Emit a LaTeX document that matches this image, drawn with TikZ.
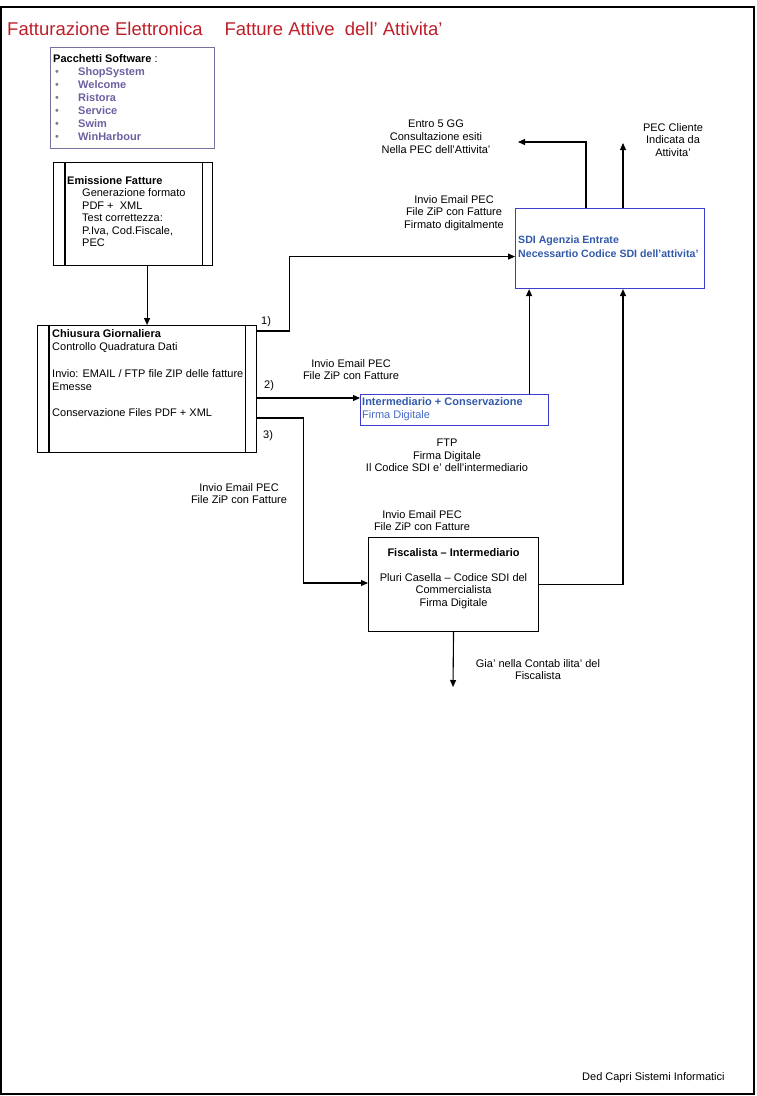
\documentclass[tikz,border=0pt]{standalone}
\usepackage{fontspec}
\setmainfont{Liberation Sans}
\usetikzlibrary{arrows.meta}
\definecolor{rossoTitolo}{RGB}{190,30,40}
\definecolor{violaPacchetti}{RGB}{110,95,160}
\definecolor{bordoPacchetti}{RGB}{120,110,160}
\definecolor{bluSDI}{RGB}{50,90,170}
\definecolor{bluFirma}{RGB}{70,105,200}
\definecolor{bordoBlu}{RGB}{60,60,205}
\newcommand{\voce}[1]{\makebox[25pt][l]{\hspace{2pt}\textcolor{gray}{\textbullet}}\textcolor{violaPacchetti}{\textbf{#1}}}
\begin{document}
\begin{tikzpicture}[x=1pt, y=-1pt, line join=miter, >={Triangle[length=7pt,width=6pt]},
  box/.style={draw, line width=1.1pt, inner sep=0pt, anchor=north west},
  testo/.style={inner sep=0pt, font=\fontsize{11}{13}\selectfont},
  nota/.style={inner sep=0pt, align=center, anchor=north, font=\fontsize{11}{12.6}\selectfont},
  freccia/.style={draw, line width=1.1pt, ->}]
\useasboundingbox (0,0) rectangle (756,1096);
% cornice della pagina
\draw[line width=1.2pt] (0,7) -- (754,7) -- (754,1094) -- (1,1094) -- (1,7);
% titolo
\node[anchor=base west, inner sep=0pt, font=\fontsize{18.5}{22}\selectfont, text=rossoTitolo] (titolo) at (7,35)
  {Fatturazione Elettronica\hspace{22pt}Fatture Attive\ \ dell' Attivita'};
% pacchetti software
\node[box, draw=bordoPacchetti, minimum width=164pt, minimum height=101pt] (pacchetti) at (50,47) {};
\node[testo, anchor=north west, align=left] (pacchettiTesto) at ([xshift=3pt,yshift=-7pt]pacchetti.north west)
  {\textbf{Pacchetti Software} :\\ \voce{ShopSystem}\\ \voce{Welcome}\\ \voce{Ristora}\\ \voce{Service}\\ \voce{Swim}\\ \voce{WinHarbour}};
% emissione fatture
\node[box, minimum width=159pt, minimum height=103pt] (emissione) at (53,162) {};
\draw[line width=1.1pt] ([xshift=12pt]emissione.north west) -- ([xshift=12pt]emissione.south west);
\draw[line width=1.1pt] ([xshift=-11pt]emissione.north east) -- ([xshift=-11pt]emissione.south east);
\node[testo, font=\fontsize{11}{12.5}\selectfont, anchor=north west, align=left] (emissioneTesto) at ([xshift=14pt,yshift=-14pt]emissione.north west)
  {\textbf{Emissione Fatture}\\ \hspace*{15pt}Generazione formato\\ \hspace*{15pt}PDF +\ \ XML\\ \hspace*{15pt}Test correttezza:\\ \hspace*{15pt}P.Iva, Cod.Fiscale,\\ \hspace*{15pt}PEC};
% chiusura giornaliera
\node[box, minimum width=219pt, minimum height=127pt] (chiusura) at (37,325) {};
\draw[line width=1.1pt] ([xshift=12pt]chiusura.north west) -- ([xshift=12pt]chiusura.south west);
\draw[line width=1.1pt] ([xshift=-12pt]chiusura.north east) -- ([xshift=-12pt]chiusura.south east);
\node[testo, font=\fontsize{11}{13.3}\selectfont, anchor=north west, align=left] (chiusuraTesto) at ([xshift=15pt,yshift=-4pt]chiusura.north west)
  {\textbf{Chiusura Giornaliera}\\ Controllo Quadratura Dati\\[13.3pt] Invio: EMAIL / FTP file ZIP delle fatture\\ Emesse\\[13.3pt] Conservazione Files PDF + XML};
% SDI agenzia entrate
\node[box, draw=bordoBlu, minimum width=189pt, minimum height=80pt] (sdi) at (515,208) {};
\node[testo, font=\fontsize{10.6}{13.5}\selectfont\bfseries, text=bluSDI, anchor=north west, align=left] (sdiTesto) at ([xshift=3pt,yshift=-28pt]sdi.north west)
  {SDI Agenzia Entrate\\ Necessartio Codice SDI dell'attivita'};
% intermediario
\node[box, draw=bordoBlu, minimum width=188pt, minimum height=31pt] (inter) at (360,394) {};
\node[testo, anchor=north west, align=left] (interTesto) at ([xshift=2pt,yshift=-3pt]inter.north west)
  {\textcolor{bluSDI}{\textbf{Intermediario + Conservazione}}\\ \textcolor{bluFirma}{Firma Digitale}};
% fiscalista
\node[box, minimum width=170pt, minimum height=94pt] (fiscalista) at (368,537) {};
\node[nota] (fiscalistaTesto) at ([yshift=-11pt]fiscalista.north)
  {\textbf{Fiscalista – Intermediario}\\[12.6pt] Pluri Casella – Codice SDI del\\ Commercialista\\ Firma Digitale};
% estremi liberi delle frecce
\coordinate (esitiFine) at (518,142);
\coordinate (pecFine) at (623,143);
\coordinate (contabFine) at (453,687);
% collegamenti
\draw[freccia] (emissione.south -| chiusura.north) -- (chiusura.north);
\draw[freccia] ([yshift=-6pt]chiusura.north east) -- ++(32,0) |- ([yshift=-8pt]sdi.west);
\draw[freccia] ([yshift=-73pt]chiusura.north east) -- ([yshift=-4pt]inter.north west);
\draw[freccia] ([yshift=-93pt]chiusura.north east) -- ++(46,0) |- ([yshift=-46pt]fiscalista.north west);
\draw[freccia] ([xshift=-20pt]inter.north east) -- ([xshift=-20pt]inter.north east |- sdi.south);
\draw[freccia] (fiscalista.east) -| ([xshift=108pt]sdi.south west);
\draw[freccia] ([xshift=71pt]sdi.north west) |- (esitiFine);
\draw[freccia] ([xshift=108pt]sdi.north west) -- (pecFine);
\draw[freccia] (fiscalista.south) -- (contabFine);
% etichette
\node[testo, anchor=base west] (uno) at (261,324) {1)};
\node[testo, anchor=base west] (due) at (264,388) {2)};
\node[testo, anchor=base west] (tre) at (263,438) {3)};
\node[nota] (esiti) at (436,120) {Entro 5 GG\\ Consultazione esiti\\ Nella PEC dell'Attivita'};
\node[nota] (pecCliente) at (673,123) {PEC Cliente\\ Indicata da\\ Attivita'};
\node[nota] (invioSdi) at (454,195) {Invio Email PEC\\ File ZiP con Fatture\\ Firmato digitalmente};
\node[nota] (invioInter) at (351,359) {Invio Email PEC\\ File ZiP con Fatture};
\node[nota] (ftp) at (447,439) {FTP\\ Firma Digitale\\ Il Codice SDI e' dell'intermediario};
\node[nota] (invioSinistra) at (239,483) {Invio Email PEC\\ File ZiP con Fatture};
\node[nota] (invioFiscalista) at (422,510) {Invio Email PEC\\ File ZiP con Fatture};
\node[nota] (contab) at (538,659) {Gia' nella Contab ilita' del\\ Fiscalista};
\node[testo, anchor=base west] (firma) at (582,1080) {Ded Capri Sistemi Informatici};
\end{tikzpicture}
\end{document}
